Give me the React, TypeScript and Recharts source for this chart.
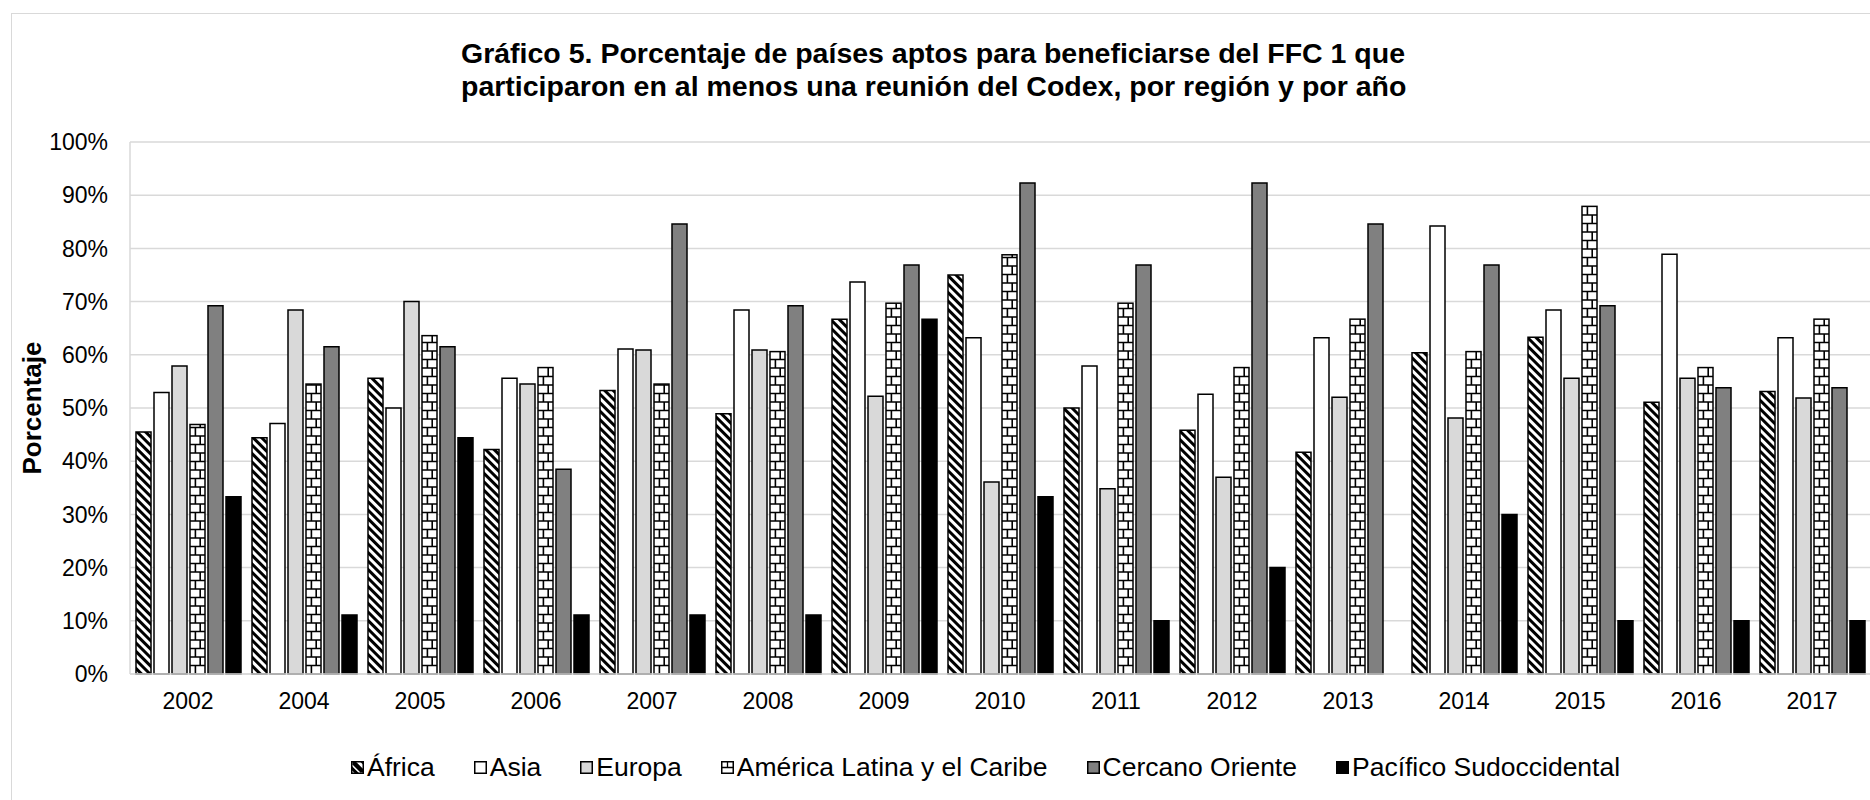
import { BarChart, Bar, XAxis, YAxis, CartesianGrid, Label } from 'recharts'

const FONT = '"Liberation Sans", Arial, sans-serif'

const years = ['2002', '2004', '2005', '2006', '2007', '2008', '2009', '2010', '2011', '2012', '2013', '2014', '2015', '2016', '2017']

const africa = [45.5, 44.4, 55.6, 42.2, 53.3, 48.9, 66.7, 75.0, 50.0, 45.8, 41.7, 60.4, 63.3, 51.1, 53.1]
const asia = [52.9, 47.1, 50.0, 55.6, 61.1, 68.4, 73.7, 63.2, 57.9, 52.6, 63.2, 84.2, 68.4, 78.9, 63.2]
const europa = [57.9, 68.4, 70.0, 54.5, 60.9, 60.9, 52.2, 36.1, 34.8, 37.0, 52.0, 48.1, 55.6, 55.6, 51.9]
const americaLatina = [46.9, 54.5, 63.6, 57.6, 54.5, 60.6, 69.7, 78.8, 69.7, 57.6, 66.7, 60.6, 87.9, 57.6, 66.7]
const cercanoOriente = [69.2, 61.5, 61.5, 38.5, 84.6, 69.2, 76.9, 92.3, 76.9, 92.3, 84.6, 76.9, 69.2, 53.8, 53.8]
const pacifico = [33.3, 11.1, 44.4, 11.1, 11.1, 11.1, 66.7, 33.3, 10.0, 20.0, 0, 30.0, 10.0, 10.0, 10.0]

const yTicks = [0, 10, 20, 30, 40, 50, 60, 70, 80, 90, 100]

const titleLines = [
  'Gráfico 5. Porcentaje de países aptos para beneficiarse del FFC 1 que',
  'participaron en al menos una reunión del Codex, por región y por año',
]

const series = [
  { key: 'africa', name: 'África', fill: 'url(#afr-stripes)', kind: 'stripes' },
  { key: 'asia', name: 'Asia', fill: '#ffffff', kind: 'plain' },
  { key: 'europa', name: 'Europa', fill: '#d9d9d9', kind: 'plain' },
  { key: 'alc', name: 'América Latina y el Caribe', fill: '#ffffff', kind: 'brick' },
  { key: 'co', name: 'Cercano Oriente', fill: '#808080', kind: 'plain' },
  { key: 'ps', name: 'Pacífico Sudoccidental', fill: '#000000', kind: 'plain' },
]

const data = years.map((year, i) => ({
  year,
  africa: africa[i],
  asia: asia[i],
  europa: europa[i],
  alc: americaLatina[i],
  co: cercanoOriente[i],
  ps: pacifico[i],
}))

// brick fill for the América Latina bars, built from the bar's own geometry
function BrickBar(props: any) {
  const { x, y, width, height } = props
  if (!height || height <= 0) return null
  const rowH = 8.5
  let d = ''
  let row = 0
  for (let bottom = y + height; bottom > y + 0.5; bottom -= rowH, row++) {
    const top = Math.max(y, bottom - rowH)
    if (top > y + 0.5) d += `M${x},${top}H${x + width}`
    const vx = x + width * (row % 2 === 0 ? 0.36 : 0.68)
    d += `M${vx},${top}V${bottom}`
  }
  return (
    <g>
      <rect x={x} y={y} width={width} height={height} fill="#fff" />
      <path d={d} stroke="#000" strokeWidth={1.6} fill="none" />
      <rect x={x} y={y} width={width} height={height} fill="none" stroke="#000" strokeWidth={1.5} />
    </g>
  )
}

function Swatch({ kind, fill }: { kind: string; fill: string }) {
  return (
    <svg width={13} height={13} style={{ display: 'block', flexShrink: 0 }}>
      <rect x={0.75} y={0.75} width={11.5} height={11.5} fill={fill} stroke="#000" strokeWidth={1.5} />
      {kind === 'stripes' && <path d="M2,2L11,11" stroke="#000" strokeWidth={3} />}
      {kind === 'brick' && <path d="M1,6.5H12M6.5,1V6.5" stroke="#000" strokeWidth={1.3} />}
    </svg>
  )
}

export default function App() {
  return (
    <div
      style={{
        position: 'absolute',
        left: 0,
        top: 0,
        width: 1870,
        height: 800,
        overflow: 'hidden',
        background: '#fff',
        fontFamily: FONT,
      }}
    >
      <div
        style={{
          position: 'absolute',
          left: 11,
          top: 13,
          width: 1950,
          height: 900,
          border: '1px solid #d9d9d9',
        }}
      />

      <div
        style={{
          position: 'absolute',
          left: 461,
          top: 37,
          textAlign: 'left',
          fontWeight: 'bold',
          fontSize: 28.5,
          lineHeight: '33px',
          color: '#000',
          whiteSpace: 'nowrap',
        }}
      >
        {titleLines.map((t) => (
          <div key={t}>{t}</div>
        ))}
      </div>

      <div style={{ position: 'absolute', left: 0, top: 0 }}>
        <BarChart
          width={1870}
          height={800}
          data={data}
          margin={{ top: 142, right: 0, bottom: 86, left: 0 }}
          barCategoryGap={6}
          barGap={3}
        >
          <defs>
            <pattern
              id="afr-stripes"
              patternUnits="userSpaceOnUse"
              width={6}
              height={6}
              patternTransform="rotate(-45)"
            >
              <rect width={6} height={6} fill="#fff" />
              <rect width={3} height={6} fill="#000" />
            </pattern>
          </defs>
          <CartesianGrid vertical={false} stroke="#d9d9d9" strokeWidth={1.5} />
          <XAxis
            dataKey="year"
            height={40}
            tickLine={false}
            tickMargin={13}
            axisLine={{ stroke: '#d9d9d9', strokeWidth: 1.5 }}
            tick={{ fill: '#000', fontSize: 23, fontFamily: FONT }}
            interval={0}
          />
          <YAxis
            width={130}
            domain={[0, 100]}
            ticks={yTicks}
            tickFormatter={(v) => `${v}%`}
            tickLine={false}
            tickMargin={16}
            axisLine={{ stroke: '#d9d9d9', strokeWidth: 1.5 }}
            tick={{ fill: '#000', fontSize: 23, fontFamily: FONT }}
          >
            <Label
              content={({ viewBox }: any) => {
                const cy = viewBox.y + viewBox.height / 2
                return (
                  <text
                    x={32}
                    y={cy}
                    transform={`rotate(-90, 32, ${cy})`}
                    textAnchor="middle"
                    dominantBaseline="central"
                    fontSize={26}
                    fontWeight="bold"
                    fontFamily={FONT}
                    fill="#000"
                  >
                    Porcentaje
                  </text>
                )
              }}
            />
          </YAxis>
          {series.map((s) => (
            <Bar
              key={s.key}
              dataKey={s.key}
              name={s.name}
              fill={s.fill}
              stroke="#000"
              strokeWidth={1.5}
              isAnimationActive={false}
              shape={s.kind === 'brick' ? BrickBar : undefined}
            />
          ))}
        </BarChart>
      </div>

      <div
        style={{
          position: 'absolute',
          left: 351,
          top: 752,
          height: 30,
          display: 'flex',
          alignItems: 'center',
          gap: 39,
          fontSize: 26.5,
          color: '#000',
          whiteSpace: 'nowrap',
        }}
      >
        {series.map((s) => (
          <div key={s.key} style={{ display: 'flex', alignItems: 'center', gap: 3 }}>
            <Swatch kind={s.kind} fill={s.fill} />
            <span>{s.name}</span>
          </div>
        ))}
      </div>
    </div>
  )
}
